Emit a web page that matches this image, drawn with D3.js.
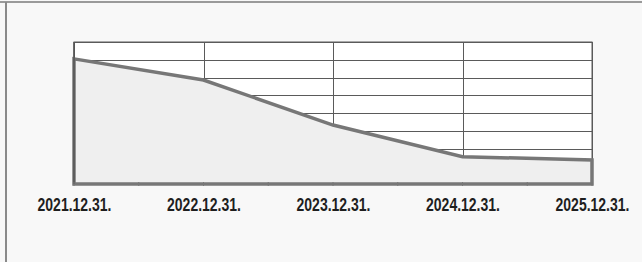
<!DOCTYPE html>
<meta charset="utf-8">
<script src="https://d3js.org/d3.v7.min.js"></script>
<style>
body { margin: 0; background: #f8f8f8; }
svg { display: block; }
.grid line { stroke: #5a5a5a; stroke-width: 1px; shape-rendering: crispEdges; }
.grid path { display: none; }
.x.axis path { display: none; }
.x.axis line { display: none; }
.x.axis text {
    font-family: "Liberation Sans Narrow", "Arial Narrow", "Liberation Sans", Arial, sans-serif;
    font-weight: bold;
    font-size: 18px;
    fill: #1e1e1e;
}
</style>
<body></body>
<script>

// categories and values (no y labels shown, 8 gridline steps)
var dates = ["2021.12.31.", "2022.12.31.", "2023.12.31.", "2024.12.31.", "2025.12.31."];
var values = [7.05, 5.86, 3.32, 1.54, 1.35];
var yTicks = [0, 1, 2, 3, 4, 5, 6, 7, 8];

var data = dates.map(function(d, i) { return {date: d, value: values[i]}; });

var W = 642, H = 262;
var margin = {top: 42, right: 50, bottom: 78, left: 74};
var width = W - margin.left - margin.right,
    height = H - margin.top - margin.bottom;

var svg = d3.select("body").append("svg")
    .attr("width", W)
    .attr("height", H);

// outer frame (top and left edges only are visible)
svg.append("line")
    .attr("x1", 0).attr("x2", W).attr("y1", 2).attr("y2", 2)
    .style("stroke", "#9a9a9a").style("stroke-width", 2);
svg.append("line")
    .attr("x1", 6).attr("x2", 6).attr("y1", 2).attr("y2", H)
    .style("stroke", "#8a8a8a").style("stroke-width", 2);

var g = svg.append("g")
    .attr("transform", "translate(" + margin.left + "," + margin.top + ")");

var xScale = d3.scalePoint()
    .domain(dates)
    .range([0, width]);

var yScale = d3.scaleLinear()
    .domain([0, 8])
    .range([height, 0]);

// plot area
g.append("rect")
    .attr("width", width)
    .attr("height", height)
    .style("fill", "#ffffff");

// gridlines
g.append("g")
    .attr("class", "grid")
    .call(d3.axisLeft(yScale).tickValues(yTicks).tickSize(-width).tickFormat(""));

g.append("g")
    .attr("class", "grid")
    .attr("transform", "translate(0," + height + ")")
    .call(d3.axisBottom(xScale).tickSize(-height).tickFormat(""));

g.append("rect")
    .attr("width", width)
    .attr("height", height)
    .style("fill", "none")
    .style("stroke", "#5a5a5a")
    .style("stroke-width", 1);

// area series with its grey outline
var area = d3.area()
    .x(function(d) { return xScale(d.date); })
    .y0(yScale(0))
    .y1(function(d) { return yScale(d.value); });

g.append("path")
    .datum(data)
    .attr("d", area)
    .style("fill", "#efefef")
    .style("stroke", "#777777")
    .style("stroke-width", 3.5)
    .style("stroke-linejoin", "miter");

g.append("line")
    .attr("x1", 0).attr("x2", 0)
    .attr("y1", 0).attr("y2", height)
    .style("stroke", "#555").style("stroke-width", 1.5);

// small tick marks on the bottom axis (categories and midpoints)
var step = xScale.step();
var tickPos = d3.range(0, dates.length * 2 - 1).map(function(i) { return i * step / 2; });
g.selectAll(".mtick")
    .data(tickPos)
    .enter()
    .append("line")
    .attr("class", "mtick")
    .attr("x1", function(d) { return d; })
    .attr("x2", function(d) { return d; })
    .attr("y1", height - 2)
    .attr("y2", height + 2)
    .style("stroke", "#777")
    .style("stroke-width", 1);

// labels, squeezed horizontally to the narrow bold look
var labelWidth = 74;
var xAxis = g.append("g")
    .attr("class", "x axis")
    .attr("transform", "translate(0," + height + ")")
    .call(d3.axisBottom(xScale).tickSize(0).tickPadding(14));

xAxis.selectAll("text")
    .attr("transform", function() {
        var sx = Math.min(1, labelWidth / this.getComputedTextLength());
        return "scale(" + sx + ",1)";
    });

</script>
